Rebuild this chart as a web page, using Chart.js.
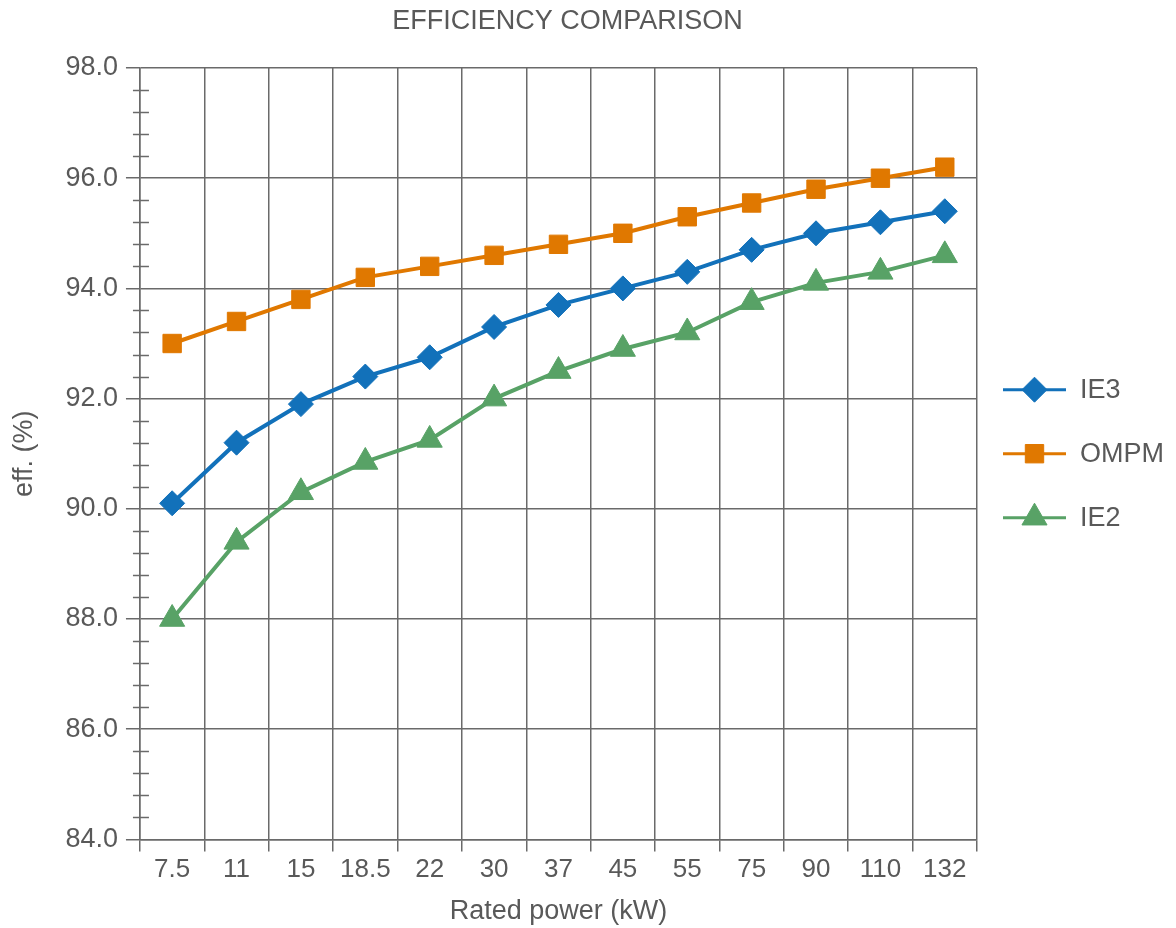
<!DOCTYPE html>
<html>
<head>
<meta charset="utf-8">
<title>Efficiency comparison</title>
<script src="https://cdn.jsdelivr.net/npm/chart.js@4.4.1/dist/chart.umd.min.js"></script>
<style>
  html, body { margin: 0; padding: 0; background: #fff; }
  #wrap { width: 1176px; height: 928px; }
</style>
</head>
<body>
<div id="wrap"><canvas id="effChart"></canvas></div>
<script>
// Datos
const potencias = ['7.5', '11', '15', '18.5', '22', '30', '37', '45', '55', '75', '90', '110', '132'];
const ie3 = [90.1, 91.2, 91.9, 92.4, 92.75, 93.3, 93.7, 94.0, 94.3, 94.7, 95.0, 95.2, 95.4];
const ompm = [93.0, 93.4, 93.8, 94.2, 94.4, 94.6, 94.8, 95.0, 95.3, 95.55, 95.8, 96.0, 96.2];
const ie2 = [88.0, 89.4, 90.3, 90.85, 91.25, 92.0, 92.5, 92.9, 93.2, 93.75, 94.1, 94.3, 94.6];
const yMin = 84, yMax = 98, yStep = 2, yMinorStep = 0.4;
const titulo = 'EFFICIENCY COMPARISON';

const textColor = '#595959';
const gridColor = '#6a6a6a';
const fontFam = '"Liberation Sans", Arial, sans-serif';

// marcas menores del eje y (cruzan el eje)
const minorTicks = {
    id: 'minorTicks',
    beforeDatasetsDraw(chart) {
        const y = chart.scales.y;
        const ctx = chart.ctx;
        const x0 = chart.chartArea.left;
        ctx.save();
        ctx.strokeStyle = gridColor;
        ctx.lineWidth = 1.5;
        const n = Math.round((yMax - yMin) / yMinorStep);
        for (let i = 1; i < n; i++) {
            const v = yMin + i * yMinorStep;
            if (Math.abs(v / yStep - Math.round(v / yStep)) < 1e-6) continue;
            const py = Math.round(y.getPixelForValue(v)) + 0.5;
            ctx.beginPath();
            ctx.moveTo(x0 - 7, py);
            ctx.lineTo(x0 + 9, py);
            ctx.stroke();
        }
        ctx.restore();
    }
};

// titulo y leyenda a la derecha: linea + marcador
const tituloLeyenda = {
    id: 'tituloLeyenda',
    afterDraw(chart) {
        const ctx = chart.ctx;
        const area = chart.chartArea;
        ctx.save();
        ctx.fillStyle = textColor;
        ctx.font = '27px ' + fontFam;
        ctx.textAlign = 'center';
        ctx.textBaseline = 'middle';
        ctx.fillText(titulo, (area.left + area.right) / 2 + 9, 22);

        const cy = (area.top + area.bottom) / 2;
        const sets = chart.data.datasets;
        sets.forEach((ds, i) => {
            const y = cy + (i - (sets.length - 1) / 2) * 64;
            const xs = area.right + 26;
            ctx.strokeStyle = ds.borderColor;
            ctx.lineWidth = 3;
            ctx.beginPath();
            ctx.moveTo(xs, y);
            ctx.lineTo(xs + 63, y);
            ctx.stroke();
            ctx.fillStyle = ds.backgroundColor;
            ctx.strokeStyle = ds.borderColor;
            ctx.lineWidth = 1;
            Chart.helpers.drawPoint(ctx, {
                pointStyle: ds.pointStyle,
                radius: ds.pointRadius,
                rotation: 0,
                borderWidth: 1
            }, xs + 31.5, y);
            ctx.fillStyle = textColor;
            ctx.font = '27px ' + fontFam;
            ctx.textAlign = 'left';
            ctx.textBaseline = 'middle';
            ctx.fillText(ds.label, xs + 77, y + 1);
        });
        ctx.restore();
    }
};

const ctx = document.getElementById('effChart').getContext('2d');

new Chart(ctx, {
    type: 'line',
    data: {
        labels: potencias,
        datasets: [{
            label: 'IE3',
            data: ie3,
            borderColor: '#1271ba',
            backgroundColor: '#1271ba',
            borderWidth: 4,
            pointStyle: 'rectRot',
            pointRadius: 12.5,
            pointBorderWidth: 1
        }, {
            label: 'OMPM',
            data: ompm,
            borderColor: '#e07800',
            backgroundColor: '#e07800',
            borderWidth: 4,
            pointStyle: 'rect',
            pointRadius: 13,
            pointBorderWidth: 1
        }, {
            label: 'IE2',
            data: ie2,
            borderColor: '#58a266',
            backgroundColor: '#58a266',
            borderWidth: 4,
            pointStyle: 'triangle',
            pointRadius: 14.5,
            pointBorderWidth: 1
        }]
    },
    options: {
        responsive: true,
        maintainAspectRatio: false,
        animation: false,
        layout: {
            padding: { left: 6, right: 199, top: 68, bottom: 0 }
        },
        plugins: {
            legend: { display: false },
            tooltip: { enabled: false },
            title: { display: false }
        },
        scales: {
            x: {
                offset: true,
                grid: {
                    offset: true,
                    color: gridColor,
                    lineWidth: 1.5,
                    tickLength: 12,
                    drawTicks: true
                },
                border: { display: true, color: gridColor, width: 1.5 },
                ticks: {
                    color: textColor,
                    font: { family: fontFam, size: 26 },
                    padding: 3,
                    maxRotation: 0,
                    autoSkip: false
                },
                title: {
                    display: true,
                    text: 'Rated power (kW)',
                    color: textColor,
                    font: { family: fontFam, size: 27 },
                    padding: { top: 7, bottom: 0 }
                }
            },
            y: {
                min: yMin,
                max: yMax,
                grid: {
                    color: gridColor,
                    lineWidth: 1.5,
                    tickLength: 14
                },
                border: { display: true, color: gridColor, width: 1.5 },
                ticks: {
                    stepSize: yStep,
                    color: textColor,
                    font: { family: fontFam, size: 27 },
                    padding: 8,
                    callback: v => v.toFixed(1)
                },
                title: {
                    display: true,
                    text: 'eff. (%)',
                    color: textColor,
                    font: { family: fontFam, size: 27 },
                    padding: { top: 2, bottom: 17 }
                }
            }
        }
    },
    plugins: [minorTicks, tituloLeyenda]
});
</script>
</body>
</html>
